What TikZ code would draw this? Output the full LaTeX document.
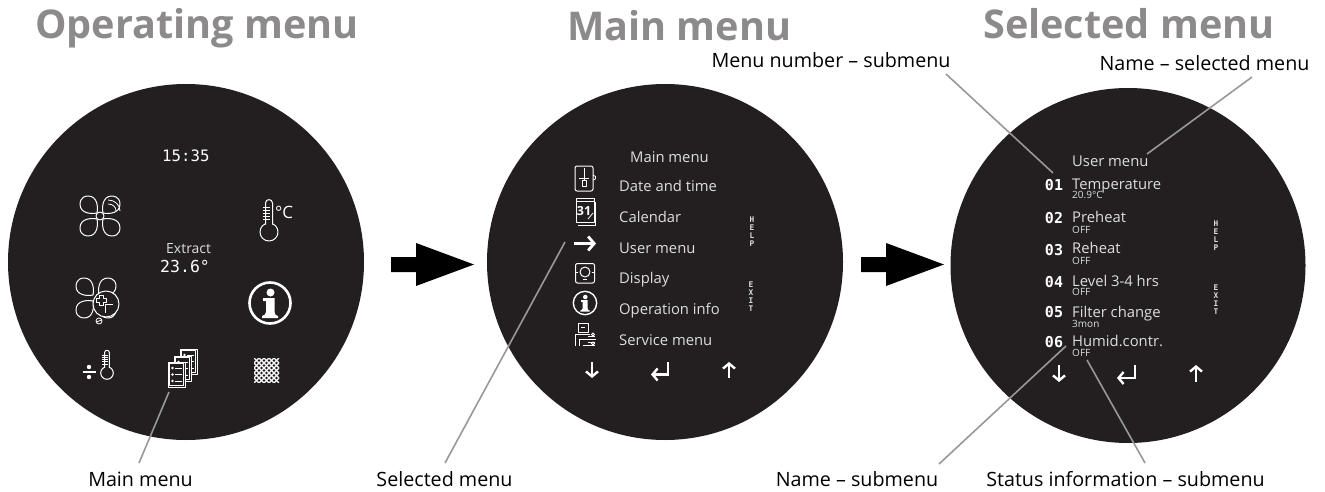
\documentclass[tikz,border=0pt]{standalone}
\usepackage{fontspec}
\setmainfont{Open Sans}
\setmonofont{DejaVu Sans Mono}
\usetikzlibrary{
  arrows.meta
}
\definecolor{screendark}{HTML}{231F20}
\definecolor{titlegray}{HTML}{8C8A8B}
\definecolor{leadergray}{HTML}{989898}
\definecolor{screentext}{HTML}{DEDEDE}
\tikzset{
  screen/.style={fill=screendark},
  titletext/.style={anchor=base west,inner sep=0pt,text=titlegray,font=\fontsize{39.6}{44}\selectfont\bfseries},
  labeltext/.style={anchor=base,inner sep=2pt,text=black,font=\fontsize{19.7}{22}\selectfont},
  itemtext/.style={anchor=base west,inner sep=0pt,text=screentext,font=\fontsize{14.8}{18}\selectfont},
  subtext/.style={anchor=base west,inner sep=0pt,text=screentext,font=\fontsize{10}{12}\selectfont},
  numbertext/.style={anchor=base,inner sep=0pt,text=white,font=\fontsize{15}{16}\selectfont\ttfamily\bfseries},
  clocktext/.style={anchor=base west,inner sep=0pt,text=white,font=\fontsize{15.7}{18}\selectfont\ttfamily},
  sidetext/.style={inner sep=0pt,text=screentext,align=center,font=\fontsize{7.8}{8}\selectfont\ttfamily\bfseries},
  leader/.style={draw=leadergray,line width=1.6pt},
  icon/.style={draw=white,line width=1pt,line join=round},
  keyarrow/.style={draw=white,line width=2.4pt,-{Straight Barb[length=5pt,width=12pt,line width=2.4pt]}},
  pics/bigarrow/.style={code={
    \fill[black] (0,-7.5) -- (25,-7.5) -- (25,-21.5) -- (83,0) -- (25,21.5) -- (25,7.5) -- (0,7.5) -- cycle;
  }},
  pics/thermoicon/.style={code={
    \draw[icon] (0,0) circle[radius=9];
    \fill[screen] (-3,-12) rectangle (3,-5);
    \draw[icon] (-3.5,-7.5) -- (-3.5,-29) .. controls (-3.5,-33.5) and (3.5,-33.5) .. (3.5,-29) -- (3.5,-7.5);
    \draw[icon,line width=.8pt] (-6.5,-25) -- (1,-25) (-6.5,-22) -- (1,-22) (-6.5,-19) -- (1,-19) (-6.5,-16) -- (1,-16) (-6.5,-13) -- (1,-13);
  }},
  pics/fanblades/.style={code={
    \foreach \bladeangle in {0,90,180,270}
      \draw[icon,rotate=\bladeangle] (-3,-3) .. controls (-2,-8) and (-2,-20) .. (-12,-20) .. controls (-20,-20) and (-20,-12) .. (-20,-12) .. controls (-20,-2) and (-8,-2) .. (-3,-3);
  }},
  pics/infoicon/.style={code={
    \draw[icon,line width=#1] (0,0) circle[radius=20.5];
    \fill[white] (.5,-10.5) circle[radius=4];
    \fill[white] (-7,-5) -- (4.5,-5) -- (4.5,9) .. controls (4.5,11) and (6,13) .. (8,13) -- (8,15) -- (-8,15) -- (-8,13) .. controls (-6,13) and (-4,11) .. (-4,9) -- (-4,-2) -- (-7,-2) -- cycle;
  }},
  pics/docpage/.style={code={
    \filldraw[screen,icon] (0,0) rectangle (17.5,25);
    \draw[icon] (1.8,1.8) rectangle (15.7,23.2);
    \fill[white] (4.5,6) circle[radius=1.4] (4.5,12.5) circle[radius=1.4] (4.5,19) circle[radius=1.4];
    \draw[icon] (7,6) -- (14,6) (7,12.5) -- (14,12.5) (7,19) -- (14,19);
  }},
  pics/meshicon/.style={code={
    \begin{scope}
    \clip (0,0) rectangle (25,24);
    \foreach \meshstep in {-25,-20,...,25} {
      \draw[draw=white,line width=1.1pt] (\meshstep,0) -- (\meshstep+25,25);
      \draw[draw=white,line width=1.1pt] (\meshstep,25) -- (\meshstep+25,0);
    }
    \end{scope}
  }},
}

\begin{document}
\begin{tikzpicture}[x=1pt,y=-1pt]
\useasboundingbox (0,0) rectangle (1325,492);
% screens
\fill[screen] (186,262) circle[radius=178];
\fill[screen] (665,262) circle[radius=178];
\fill[screen] (1128,265.5) circle[radius=177.5];
% titles
\node[titletext] (operatingtitle) at (35,39) {Operating menu};
\node[titletext] (mainmenutitle) at (567,41) {Main menu};
\node[titletext] (selectedtitle) at (983,39) {Selected menu};
% big arrows
\pic at (391,264.5) {bigarrow};
\pic at (861,264.5) {bigarrow};
% operating menu
\node[clocktext] (clocktime) at (162,161) {15:35};
\node[itemtext,font=\fontsize{14}{16}\selectfont] (extractname) at (166,253) {Extract};
\node[clocktext,font=\fontsize{16.5}{18}\selectfont\ttfamily] (extractvalue) at (160,272) {23.6°};
\pic at (100,216) {fanblades};
\draw[icon] (100,216) circle[radius=4];
\draw[icon,line width=.8pt] (108,204) .. controls (113,204) and (116,207) .. (116,211);
\draw[icon,line width=.8pt] (108,200) .. controls (115,200) and (120,205) .. (120,211);
\pic at (96,298) {fanblades};
\filldraw[screen,icon] (106,304) circle[radius=13];
\draw[icon] (99,295) -- (103,295) -- (103,298) -- (106,298) -- (106,302) -- (103,302) -- (103,305) -- (99,305) -- (99,302) -- (96,302) -- (96,298) -- (99,298) -- cycle;
\draw[icon] (105,313) -- (105,304) -- (113,304);
\draw[icon,line width=.8pt] (99,321) circle[radius=3] (96.5,322) -- (101.5,320);
\pic at (269,232) {thermoicon};
\node[itemtext,text=white,font=\fontsize{17}{20}\selectfont] (degreeunit) at (275,218) {°C};
\pic at (270,303) {infoicon=2.6pt};
\fill[white] (89,367) circle[radius=2.2] (89,377) circle[radius=2.2];
\draw[draw=white,line width=2pt] (82.5,372) -- (95.5,372);
\pic[scale=.7] at (107,373) {thermoicon};
\pic at (180,349) {docpage};
\pic at (174,356) {docpage};
\pic at (168,362) {docpage};
\pic at (254,358) {meshicon};
% main menu
\node[itemtext] (mainmenuhead) at (630,163) {Main menu};
\node[itemtext] (dateitem) at (619,191) {Date and time};
\node[itemtext] (calendaritem) at (619,222) {Calendar};
\node[itemtext] (useritem) at (619,253) {User menu};
\node[itemtext] (displayitem) at (619,283) {Display};
\node[itemtext] (operationitem) at (619,314) {Operation info};
\node[itemtext] (serviceitem) at (619,345) {Service menu};
\draw[icon,rounded corners=2pt] (575,166) rectangle (593,191);
\draw[icon,line width=.8pt] (584,168) -- (584,180) (579,178) -- (589,178);
\draw[icon,line width=.8pt] (582,180) rectangle (586,186);
\draw[icon,line width=.8pt] (593,175) -- (595.5,176.5) -- (595.5,179) -- (593,180);
\draw[icon] (576,198) rectangle (594,222);
\draw[icon] (576,201.5) -- (594,201.5);
\draw[icon,line width=.8pt] (578,225) -- (595.5,225) -- (595.5,202);
\node[inner sep=0pt,text=white,font=\fontsize{12.5}{14}\selectfont\bfseries] (calendarday) at (584,211) {31};
\draw[icon,line width=.8pt] (588,219) -- (593,213);
\draw[icon,line width=2.8pt,-{Straight Barb[length=6pt,width=14pt,line width=2.8pt]}] (574,243.5) -- (596,243.5);
\draw[icon,rounded corners=2pt] (575.5,263.5) rectangle (594.5,283);
\draw[icon] (585,272) circle[radius=5];
\draw[icon] (576,272) -- (578,272) (592,272) -- (594,272) (583,279) -- (587,279);
\pic[scale=.57] at (585,303) {infoicon=1.4pt};
\draw[icon] (578,323.5) rectangle (588,332);
\draw[icon] (581,327) -- (585,327);
\draw[icon] (575,346) -- (575,334) -- (590,334);
\draw[icon] (579,346) -- (579,339) -- (596,339);
\draw[icon] (588,336.5) -- (595,336.5) (588,342) -- (595,342) (583,345) -- (595,345);
\draw[icon] (593,334.5) circle[radius=1.5] (593,343.5) circle[radius=1.5];
\draw[keyarrow] (592,362) -- (592,378);
\draw[keyarrow] (668,362) -- (668,374.5) -- (651,374.5);
\draw[keyarrow] (729,378) -- (729,362);
\node[sidetext] (mainhelp) at (752,232) {H\\E\\L\\P};
\node[sidetext] (mainexit) at (751,297) {E\\X\\I\\T};
% selected menu
\node[itemtext] (usermenuhead) at (1072,167) {User menu};
\node[numbertext] (numberone) at (1054,190) {01};
\node[numbertext] (numbertwo) at (1054,223) {02};
\node[numbertext] (numberthree) at (1054,255) {03};
\node[numbertext] (numberfour) at (1054,287) {04};
\node[numbertext] (numberfive) at (1054,317) {05};
\node[numbertext] (numbersix) at (1054,347) {06};
\node[itemtext] (temperatureitem) at (1072,189) {Temperature};
\node[itemtext] (preheatitem) at (1072,222) {Preheat};
\node[itemtext] (reheatitem) at (1072,253) {Reheat};
\node[itemtext] (levelitem) at (1072,286) {Level 3-4 hrs};
\node[itemtext] (filteritem) at (1072,317) {Filter change};
\node[itemtext] (humiditem) at (1072,346) {Humid.contr.};
\node[subtext] (temperaturevalue) at (1072,198) {20.9°C};
\node[subtext] (preheatvalue) at (1072,233) {OFF};
\node[subtext] (reheatvalue) at (1072,264) {OFF};
\node[subtext] (levelvalue) at (1072,295) {OFF};
\node[subtext] (filtervalue) at (1072,327) {3mon};
\node[subtext] (humidvalue) at (1072,356) {OFF};
\draw[keyarrow] (1059,365) -- (1059,382);
\draw[keyarrow] (1135,365) -- (1135,378) -- (1117,378);
\draw[keyarrow] (1196,382) -- (1196,365);
\node[sidetext] (selectedhelp) at (1216,236) {H\\E\\L\\P};
\node[sidetext] (selectedexit) at (1216,300) {E\\X\\I\\T};
% labels and leaders
\node[labeltext] (mainlabel) at (140.5,486) {Main menu};
\node[labeltext] (selectedlabel) at (444.5,486) {Selected menu};
\node[labeltext] (namesublabel) at (857,486) {Name – submenu};
\node[labeltext] (statuslabel) at (1125.5,486) {Status information – submenu};
\node[labeltext] (numberlabel) at (831,68) {Menu number – submenu};
\node[labeltext] (namesellabel) at (1204.5,71) {Name – selected menu};
\coordinate (mainfoot) at (139,463);
\coordinate (maintip) at (169,392);
\coordinate (selectedfoot) at (445,463);
\coordinate (selectedtip) at (565,242);
\coordinate (namesubfoot) at (939,464);
\coordinate (namesubtip) at (1066,346);
\coordinate (statusfoot) at (1145,463);
\coordinate (statustip) at (1087,360);
\coordinate (numberfoot) at (946,74);
\coordinate (numbertip) at (1053,173);
\coordinate (nameselfoot) at (1252,77);
\coordinate (nameseltip) at (1147,154);
\draw[leader] (mainfoot) -- (maintip);
\draw[leader] (selectedfoot) -- (selectedtip);
\draw[leader] (namesubfoot) -- (namesubtip);
\draw[leader] (statusfoot) -- (statustip);
\draw[leader] (numberfoot) -- (numbertip);
\draw[leader] (nameselfoot) -- (nameseltip);
\end{tikzpicture}
\end{document}
